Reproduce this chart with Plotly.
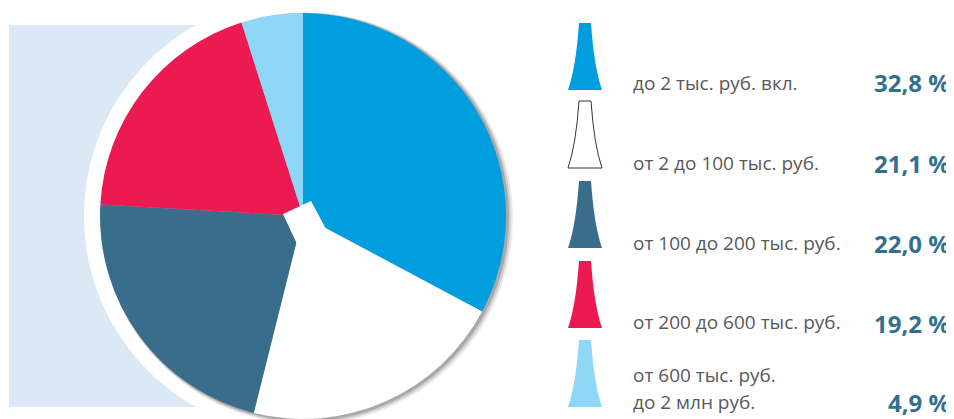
import plotly.graph_objects as go

# ---- data ----
categories = ["до 2 тыс. руб. вкл.", "от 2 до 100 тыс. руб.", "от 100 до 200 тыс. руб.",
              "от 200 до 600 тыс. руб.", "от 600 тыс. руб.\nдо 2 млн руб."]
values = [32.8, 21.1, 22.0, 19.2, 4.9]
pct_labels = ["32,8 %", "21,1 %", "22,0 %", "19,2 %", "4,9 %"]
colors = ["#009EDE", "#FFFFFF", "#3A6C8C", "#EB1A50", "#8ED7F6"]

# page body has an 8px margin; work in window pixels and convert
OFF = 8
W, H = 954 - OFF, 419 - OFF

def px(x):
    return (x - OFF) / W

def py(y):
    return 1 - (y - OFF) / H

fig = go.Figure()

# pie geometry (window pixels)
cx, cy, r = 303, 216, 203
fig.add_trace(go.Pie(
    labels=[c.replace("\n", " ") for c in categories],
    values=values,
    marker=dict(colors=colors, line=dict(width=0)),
    sort=False, direction="clockwise", rotation=0,
    textinfo="none", showlegend=False,
    domain=dict(x=[px(cx - r), px(cx + r)], y=[py(cy + r), py(cy - r)]),
))

shapes = []
# light background panel
shapes.append(dict(type="rect", xref="paper", yref="paper", layer="below",
                   x0=px(9), x1=px(300), y0=py(407), y1=py(25),
                   fillcolor="#DBE8F5", line=dict(width=0)))
# white halo round the pie
hr = 219
shapes.append(dict(type="circle", xref="paper", yref="paper", layer="below",
                   x0=px(cx - hr), x1=px(cx + hr), y0=py(cy + hr), y1=py(cy - hr),
                   fillcolor="#FFFFFF", line=dict(width=0)))
# soft shadow
for dx, dr, op in [(4, 3, 0.08), (3, 2, 0.12), (2, 1, 0.18)]:
    shapes.append(dict(type="circle", xref="paper", yref="paper", layer="below",
                       x0=px(cx + dx - r - dr), x1=px(cx + dx + r + dr),
                       y0=py(cy + dx * 0.6 + r + dr), y1=py(cy + dx * 0.6 - r - dr),
                       fillcolor="rgba(0,0,0,%s)" % op, line=dict(width=0)))

# white notch at the centre of the pie (decorative)
notch = [(283, 214), (311, 201), (326, 229), (297, 244)]
shapes.append(dict(type="path", xref="paper", yref="paper", layer="above",
                   path="M " + " L ".join("%f,%f" % (px(a), py(b)) for a, b in notch) + " Z",
                   fillcolor="#FFFFFF", line=dict(width=0)))

# legend icons (flared shapes)
icon_tops = [23, 101, 181, 261, 340]
icon_h = 67
for i, top in enumerate(icon_tops):
    bot = top + icon_h
    xl_b, xr_b = 568, 602
    xl_t, xr_t = 579, 591
    ml = (576, top + 44)
    mr = (594, top + 44)
    path = ("M {a},{b} L {c},{d} Q {e},{f} {g},{h} L {i},{j} Q {k},{l} {a},{b} Z").format(
        a=px(xl_t), b=py(top), c=px(xr_t), d=py(top),
        e=px(mr[0]), f=py(mr[1]), g=px(xr_b), h=py(bot),
        i=px(xl_b), j=py(bot), k=px(ml[0]), l=py(ml[1]))
    if colors[i].upper() == "#FFFFFF":
        line = dict(color="#333333", width=1)
    else:
        line = dict(width=0)
    shapes.append(dict(type="path", xref="paper", yref="paper", path=path,
                       fillcolor=colors[i], line=line))

annotations = []
label_y = [83, 163, 243, 322, 375]
pct_y = [82, 163, 243, 323, 402]
for i, cat in enumerate(categories):
    lines = cat.split("\n")
    for j, ln in enumerate(lines):
        annotations.append(dict(xref="paper", yref="paper", x=px(631), y=py(label_y[i] + 27 * j),
                                xanchor="left", yanchor="middle", showarrow=False, text=ln,
                                font=dict(family="Open Sans", size=19, color="#58595B")))
    annotations.append(dict(xref="paper", yref="paper", x=px(952), y=py(pct_y[i]),
                            xanchor="right", yanchor="middle", showarrow=False,
                            text="<b>%s</b>" % pct_labels[i],
                            font=dict(family="Open Sans", size=24, color="#33708F")))

fig.update_layout(
    width=W, height=H, margin=dict(l=0, r=0, t=0, b=0),
    paper_bgcolor="#FFFFFF", plot_bgcolor="#FFFFFF",
    shapes=shapes, annotations=annotations,
)

fig.write_html("out.html")
